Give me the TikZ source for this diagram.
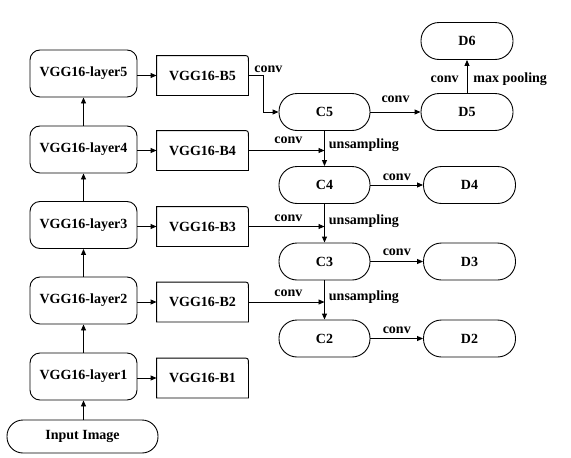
\documentclass[tikz,border=0pt]{standalone}
\usepackage{fontspec}
\setmainfont{Liberation Serif}
\usetikzlibrary{arrows.meta,calc}
\begin{document}
\begin{tikzpicture}[x=1pt,y=-1pt, line width=0.9pt,
 every node/.style={font=\fontsize{14}{16}\selectfont\bfseries, inner sep=0pt},
 layerbox/.style={draw, rounded corners=10pt, minimum width=107pt, minimum height=47pt},
 bbox/.style={minimum width=91pt, minimum height=39pt},
 pill/.style={draw, rounded corners=18pt, minimum width=91pt, minimum height=37pt},
 arr/.style={-{Triangle[length=6pt,width=5pt]}},
 lbl/.style={anchor=base}]
\useasboundingbox (0,0) rectangle (571,458);
% encoder column
\node[layerbox] (L5) at (83.5,73.5) {VGG16-layer5};
\node[layerbox] (L4) at (83.5,149.5) {VGG16-layer4};
\node[layerbox] (L3) at (83.5,225) {VGG16-layer3};
\node[layerbox] (L2) at (83.5,300.5) {VGG16-layer2};
\node[layerbox] (L1) at (83.5,376.5) {VGG16-layer1};
\node[draw, rounded corners=16pt, minimum width=151pt, minimum height=33pt] (IN) at (82.5,436.5) {Input Image};
% B boxes
\node[bbox] (B5) at (202.5,75.5) {VGG16-B5};
\node[bbox] (B4) at (202.5,150.5) {VGG16-B4};
\node[bbox] (B3) at (202.5,226.5) {VGG16-B3};
\node[bbox] (B2) at (202.5,302) {VGG16-B2};
\node[bbox] (B1) at (202.5,378) {VGG16-B1};
\foreach \n in {B1,B2,B3,B4,B5}
  \draw (\n.south west) -- (\n.north west) -- ([xshift=-6pt]\n.north east)
        .. controls (\n.north east) .. ([yshift=-6pt]\n.north east) -- (\n.south east) -- cycle;
% C and D
\node[pill] (C5) at (324.5,112) {C5};
\node[pill] (C4) at (324.5,185) {C4};
\node[pill] (C3) at (324.5,261.5) {C3};
\node[pill] (C2) at (324.5,338.5) {C2};
\node[pill, minimum width=92pt] (D6) at (467,41) {D6};
\node[pill, minimum width=92pt] (D5) at (467,112) {D5};
\node[pill, minimum width=92pt] (D4) at (469.5,185) {D4};
\node[pill, minimum width=92pt] (D3) at (469.5,261.5) {D3};
\node[pill, minimum width=92pt] (D2) at (469.5,338.5) {D2};
% encoder arrows
\draw[arr] (IN.north -| L1.south) -- (L1.south);
\draw[arr] (L1) -- (L2);
\draw[arr] (L2) -- (L3);
\draw[arr] (L3) -- (L4);
\draw[arr] (L4) -- (L5);
\foreach \i in {1,...,5}
  \draw[arr] (L\i.east |- B\i.west) -- (B\i.west);
% B5 -> C5
\draw[arr] (B5.east) -- ++(15,0) |- (C5.west);
\node[lbl] (cv5) at ([xshift=20pt,yshift=3.5pt]B5.east) {conv};
% skip connections
\coordinate (j4) at (C5.south |- B4.east);
\coordinate (j3) at (C4.south |- B3.east);
\coordinate (j2) at (C3.south |- B2.east);
\draw[arr] (B4.east) -- (j4);
\draw[arr] (B3.east) -- (j3);
\draw[arr] (B2.east) -- (j2);
\node[lbl] (cv4) at ([xshift=2pt,yshift=7pt]$(B4.east)!0.5!(j4)$) {conv};
\node[lbl] (cv3) at ([xshift=2pt,yshift=5pt]$(B3.east)!0.5!(j3)$) {conv};
\node[lbl] (cv2) at ([xshift=2pt,yshift=6pt]$(B2.east)!0.5!(j2)$) {conv};
\draw[arr] (C5.south) -- (C4.north);
\draw[arr] (C4.south) -- (C3.north);
\draw[arr] (C3.south) -- (C2.north);
\node[anchor=base west] (u4) at ([xshift=4pt,yshift=2pt]j4) {unsampling};
\node[anchor=base west] (u3) at ([xshift=4pt,yshift=2pt]j3) {unsampling};
\node[anchor=base west] (u2) at ([xshift=4pt,yshift=2pt]j2) {unsampling};
% C -> D
\draw[arr] (C5.east) -- (D5.west);
\draw[arr] (C4.east) -- (D4.west);
\draw[arr] (C3.east) -- (D3.west);
\draw[arr] (C2.east) -- (D2.west);
\node[lbl] (cd5) at ([yshift=10pt]$(C5.east)!0.5!(D5.west)$) {conv};
\node[lbl] (cd4) at ([yshift=5pt]$(C4.east)!0.5!(D4.west)$) {conv};
\node[lbl] (cd3) at ([yshift=6pt]$(C3.east)!0.5!(D3.west)$) {conv};
\node[lbl] (cd2) at ([yshift=5pt]$(C2.east)!0.5!(D2.west)$) {conv};
% D5 -> D6
\draw[arr] (D5.north) -- (D6.south);
\node[anchor=base east] (cp) at ([xshift=-8pt,yshift=11pt]D5.north) {conv};
\node[anchor=base west] (mp) at ([xshift=6pt,yshift=11pt]D5.north) {max pooling};
\end{tikzpicture}
\end{document}
